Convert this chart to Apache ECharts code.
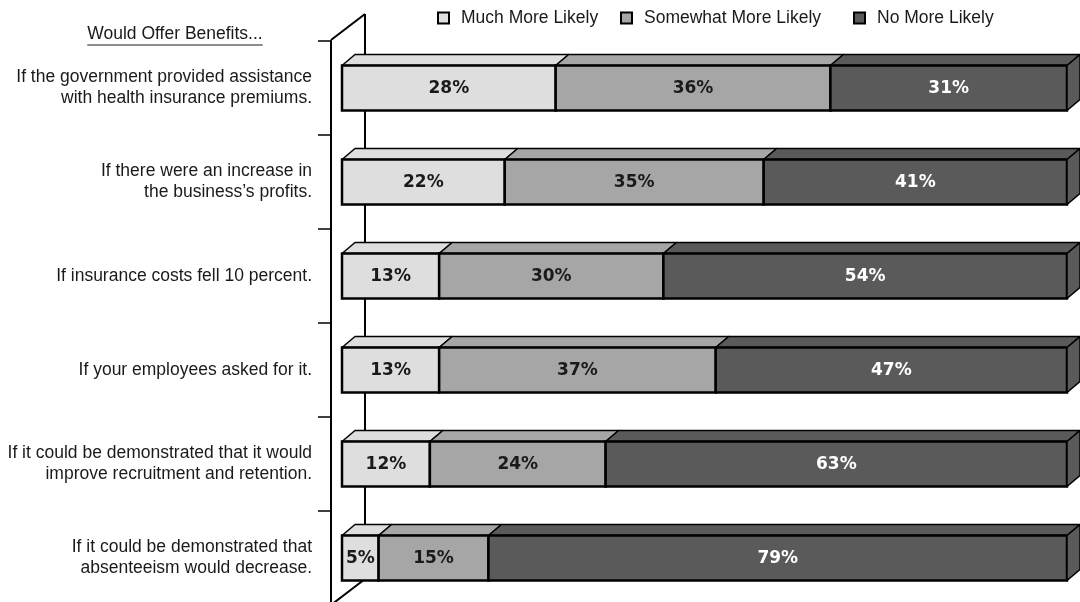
<!DOCTYPE html>
<html>
<head>
<meta charset="utf-8">
<script src="https://cdn.jsdelivr.net/npm/echarts@6/dist/echarts.min.js"></script>
<style>
  html, body { margin: 0; padding: 0; background: #ffffff; }
  #chart { width: 1080px; height: 602px; }
</style>
</head>
<body>
<div id="chart"></div>
<script>
// Survey responses: likelihood of offering benefits under each scenario (percent)
const categories = [
  'If the government provided assistance\nwith health insurance premiums.',
  'If there were an increase in\nthe business\u2019s profits.',
  'If insurance costs fell 10 percent.',
  'If your employees asked for it.',
  'If it could be demonstrated that it would\nimprove recruitment and retention.',
  'If it could be demonstrated that\nabsenteeism would decrease.'
];
const seriesNames = ['Much More Likely', 'Somewhat More Likely', 'No More Likely'];
const muchMoreLikely = [28, 22, 13, 13, 12, 5];
const somewhatMoreLikely = [36, 35, 30, 37, 24, 15];
const noMoreLikely = [31, 41, 54, 47, 63, 79];
const headerText = 'Would Offer Benefits...';

const groups = [muchMoreLikely, somewhatMoreLikely, noMoreLikely];
const fills = ['#dedede', '#a6a6a6', '#5a5a5a'];
const labelFills = ['#1a1a1a', '#1a1a1a', '#ffffff'];
const textFont = "'Liberation Sans', Arial, sans-serif";
const textSize = 17.5;

// extrusion of the bars and of the side wall
const BAR_H = 45, DX = 13, DY = 11;
const WALL_DX = 34, WALL_DY = 26;

// Rows are 100% stacked: each segment spans its share of the row total.
function segmentData(k) {
  return categories.map(function (_, i) {
    let total = 0, before = 0;
    groups.forEach(function (g, j) { total += g[i]; if (j < k) before += g[i]; });
    return [i, before / total * 100, (before + groups[k][i]) / total * 100, groups[k][i]];
  });
}

function makeRender(k) {
  const isLast = k === groups.length - 1;
  return function (params, api) {
    const row = api.value(0);
    const p0 = api.coord([api.value(1), row]);
    const p1 = api.coord([api.value(2), row]);
    const x0 = p0[0], x1 = p1[0], yc = p0[1];
    const top = yc - BAR_H / 2;
    const fill = fills[k];
    const children = [
      {
        type: 'polygon',
        shape: { points: [[x0, top], [x1, top], [x1 + DX, top - DY], [x0 + DX, top - DY]] },
        style: { fill: fill, stroke: '#000', lineWidth: 1.5, lineJoin: 'round' }
      },
      {
        type: 'rect',
        shape: { x: x0, y: top, width: x1 - x0, height: BAR_H },
        style: { fill: fill, stroke: '#000', lineWidth: 2.5 }
      }
    ];
    if (isLast) {
      children.push({
        type: 'polygon',
        shape: { points: [[x1, top], [x1 + DX, top - DY], [x1 + DX, top + BAR_H - DY], [x1, top + BAR_H]] },
        style: { fill: fill, stroke: '#000', lineWidth: 1.5, lineJoin: 'round' }
      });
    }
    children.push({
      type: 'text',
      style: {
        text: api.value(3) + '%',
        x: (x0 + x1) / 2,
        y: yc + 1,
        align: 'center',
        verticalAlign: 'middle',
        fill: labelFills[k],
        font: 'bold 17px "DejaVu Sans", Verdana, sans-serif'
      }
    });
    return { type: 'group', children: children };
  };
}

const chart = echarts.init(document.getElementById('chart'), null, { renderer: 'canvas' });

// the plot box starts at the front edge of the side wall; bars sit a little behind it
const chartW = 1080;
const gridLeft = 331, gridRight = 13, gridTop = 41, gridHeight = 564, barInset = 11;
const plotW = chartW - gridLeft - gridRight;
const xMin = -barInset / (plotW - barInset) * 100;

// header underline width follows the measured header text
const measureCtx = document.createElement('canvas').getContext('2d');
measureCtx.font = textSize + 'px ' + textFont;
const headerW = measureCtx.measureText(headerText).width;
const headerCx = 175;

const legendLefts = [432, 615, 848];

chart.setOption({
  animation: false,
  backgroundColor: '#ffffff',
  grid: {
    left: gridLeft, right: gridRight, top: gridTop, height: gridHeight,
    containLabel: false, outerBoundsMode: 'none'
  },
  xAxis: { type: 'value', min: xMin, max: 100, show: false },
  yAxis: {
    type: 'category',
    data: categories,
    inverse: true,
    axisLine: { show: true, onZero: false, lineStyle: { color: '#000', width: 2 } },
    axisTick: { show: true, length: 13, inside: false, lineStyle: { color: '#000', width: 1.5 } },
    splitLine: { show: false },
    axisLabel: {
      interval: 0,
      margin: 19,
      color: '#1a1a1a',
      fontFamily: textFont,
      fontSize: textSize,
      lineHeight: 21,
      align: 'right'
    }
  },
  legend: seriesNames.map(function (name, i) {
    return {
      data: [{ name: name, icon: 'rect' }],
      left: legendLefts[i],
      top: 4,
      itemWidth: 11,
      itemHeight: 11,
      selectedMode: false,
      itemStyle: { borderColor: '#000', borderWidth: 2 },
      textStyle: { fontFamily: textFont, fontSize: textSize, color: '#1a1a1a', padding: [0, 0, 0, 7] }
    };
  }),
  graphic: [
    // back edge and top/bottom edges of the side wall
    { type: 'line', z: 0, shape: { x1: gridLeft, y1: gridTop - 1, x2: gridLeft + WALL_DX, y2: gridTop - 1 - WALL_DY }, style: { stroke: '#000', lineWidth: 2 } },
    { type: 'line', z: 0, shape: { x1: gridLeft + WALL_DX, y1: gridTop - 1 - WALL_DY, x2: gridLeft + WALL_DX, y2: gridTop + gridHeight - WALL_DY }, style: { stroke: '#000', lineWidth: 2 } },
    { type: 'line', z: 0, shape: { x1: gridLeft, y1: gridTop + gridHeight, x2: gridLeft + WALL_DX, y2: gridTop + gridHeight - WALL_DY }, style: { stroke: '#000', lineWidth: 2 } },
    // column header with underline
    {
      type: 'text', z: 5,
      style: { text: headerText, x: headerCx, y: 34, align: 'center', verticalAlign: 'middle', fill: '#1a1a1a', font: textSize + 'px ' + textFont }
    },
    {
      type: 'line', z: 5,
      shape: { x1: headerCx - headerW / 2, y1: 45, x2: headerCx + headerW / 2, y2: 45 },
      style: { stroke: '#1a1a1a', lineWidth: 1 }
    }
  ],
  series: groups.map(function (_, k) {
    return {
      type: 'custom',
      name: seriesNames[k],
      coordinateSystem: 'cartesian2d',
      clip: false,
      z: 3,
      itemStyle: { color: fills[k], borderColor: '#000', borderWidth: 2 },
      encode: { x: [1, 2], y: 0 },
      renderItem: makeRender(k),
      data: segmentData(k)
    };
  })
});
</script>
</body>
</html>
